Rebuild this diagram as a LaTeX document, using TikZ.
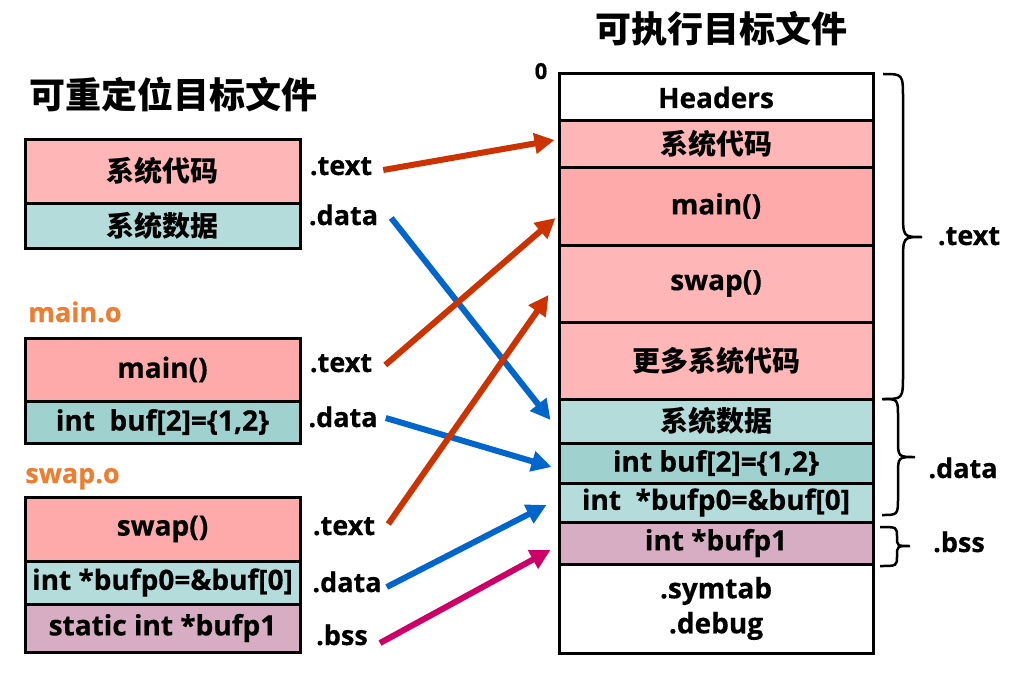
\documentclass[tikz,border=0pt]{standalone}
\usepackage{fontspec}
\setmainfont{Open Sans}[BoldFeatures={FakeBold=0.5}]
\newfontfamily\cjk{Noto Sans CJK SC}
\usetikzlibrary{arrows.meta}
\definecolor{pinkA}{HTML}{FFB6B6}
\definecolor{pinkB}{HTML}{FFAAAA}
\definecolor{tealA}{HTML}{B3DCDB}
\definecolor{tealB}{HTML}{9FD1CF}
\definecolor{bssC}{HTML}{D6ADC2}
\definecolor{orangeC}{HTML}{ED7D31}
\definecolor{redA}{HTML}{CC3300}
\definecolor{blueA}{HTML}{0066CC}
\definecolor{magA}{HTML}{CC0066}
\begin{document}
\begin{tikzpicture}[x=1pt,y=-1pt,
  box/.style={draw=black,line width=3pt,inner sep=0pt,minimum width=275pt,font=\bfseries\fontsize{28}{32}\selectfont},
  rbox/.style={box,minimum width=314pt},
  lbl/.style={inner sep=0pt,anchor=base,font=\bfseries\fontsize{27}{32}\selectfont},
  ttl/.style={inner sep=0pt,font=\cjk\bfseries\fontsize{36}{40}\selectfont},
  arr/.style={line width=6pt,-{Triangle[length=20pt,width=20pt]}},
  brc/.style={draw=black,line width=2.5pt},
]
\useasboundingbox (0,0) rectangle (1030,674);
% titles
\node[ttl] (T1) at (173,94.5) {可重定位目标文件};
\node[ttl] (T2) at (721,29) {可执行目标文件};
\node[lbl,font=\bfseries\fontsize{22}{26}\selectfont] (zero) at (541,79) {0};
\node[lbl,text=orangeC] (mo) at (75,322) {main.o};
\node[lbl,text=orangeC] (so) at (72.5,483) {swap.o};
% left boxes
\node[box,fill=pinkA,minimum height=64pt] (L1a) at (162.5,171) {\cjk 系统代码};
\node[box,fill=tealA,minimum height=45pt] (L1b) at (162.5,225.5) {\cjk 系统数据};
\node[box,fill=pinkB,minimum height=63pt] (L2a) at (162.5,369.5) {main()};
\node[box,fill=tealB,minimum height=42pt] (L2b) at (162.5,422) {int\ \ buf[2]=\{1,2\}};
\node[box,fill=pinkB,minimum height=64pt] (L3a) at (162.5,529) {swap()};
\node[box,fill=tealA,minimum height=43pt] (L3b) at (162.5,582.5) {int *bufp0=\&buf[0]};
\node[box,fill=bssC,minimum height=48pt] (L3c) at (162.5,628) {static int *bufp1};
% left labels
\node[lbl] (lt1) at (341,175) {.text};
\node[lbl] (ld1) at (343.5,225) {.data};
\node[lbl] (lt2) at (341,372) {.text};
\node[lbl] (ld2) at (343,427) {.data};
\node[lbl] (lt3) at (344,535) {.text};
\node[lbl] (ld3) at (347,592) {.data};
\node[lbl] (lb3) at (342,645) {.bss};
% right boxes
\node[rbox,fill=white,minimum height=47pt] (R1) at (716,97.5) {Headers};
\node[rbox,fill=pinkA,minimum height=46pt] (R2) at (716,144) {\cjk 系统代码};
\node[rbox,fill=pinkB,minimum height=78pt] (R3) at (716,206) {main()};
\node[rbox,fill=pinkA,minimum height=77pt] (R4) at (716,283.5) {swap()};
\node[rbox,fill=pinkA,minimum height=77pt] (R5) at (716,360.5) {\cjk 更多系统代码};
\node[rbox,fill=tealA,minimum height=44pt] (R6) at (716,421) {\cjk 系统数据};
\node[rbox,fill=tealB,minimum height=40pt] (R7) at (716,463) {int buf[2]=\{1,2\}};
\node[rbox,fill=tealA,minimum height=39pt] (R8) at (716,502.5) {int\ \ *bufp0=\&buf[0]};
\node[rbox,fill=bssC,minimum height=42pt] (R9) at (716,543) {int *bufp1};
\node[rbox,fill=white,minimum height=89pt,align=center,font=\bfseries\fontsize{28}{35}\selectfont] (R10) at (716,608.5) {.symtab\\.debug};
% right labels
\node[lbl] (rt) at (969,245) {.text};
\node[lbl] (rd) at (963,478) {.data};
\node[lbl] (rb) at (959,552) {.bss};
% braces
\draw[brc] (883,74) .. controls (903,74) .. (903,99) -- (903,212) .. controls (903,237) .. (922,237) .. controls (903,237) .. (903,262) -- (903,374) .. controls (903,399) .. (883,399);
\draw[brc] (882,399) .. controls (898,399) .. (898,417) -- (898,439) .. controls (898,457) .. (915,457) .. controls (898,457) .. (898,475) -- (898,497) .. controls (898,515) .. (882,515);
\draw[brc] (880,527) .. controls (897,527) .. (897,537) .. controls (897,546) .. (910,546) .. controls (897,546) .. (897,556) .. controls (897,566) .. (880,566);
% arrows
\draw[arr,redA] ([shift={(11,-5)}]lt1.base east) -- ([shift={(-3,-4)}]R2.west);
\draw[arr,blueA] ([shift={(13,-7)}]ld1.base east) -- ([shift={(-7,-1)}]R6.west);
\draw[arr,redA] ([shift={(13,-7)}]lt2.base east) -- ([shift={(-2,12)}]R3.west);
\draw[arr,blueA] ([shift={(8,-9)}]ld2.base east) -- ([shift={(-6,4)}]R7.west);
\draw[arr,redA] ([shift={(13,-11)}]lt3.base east) -- ([shift={(-9,11.5)}]R4.west);
\draw[arr,blueA] ([shift={(5,-5)}]ld3.base east) -- ([shift={(-11,2.5)}]R8.west);
\draw[arr,magA] ([shift={(12,-2)}]lb3.base east) -- ([shift={(-7,7)}]R9.west);
\end{tikzpicture}
\end{document}
